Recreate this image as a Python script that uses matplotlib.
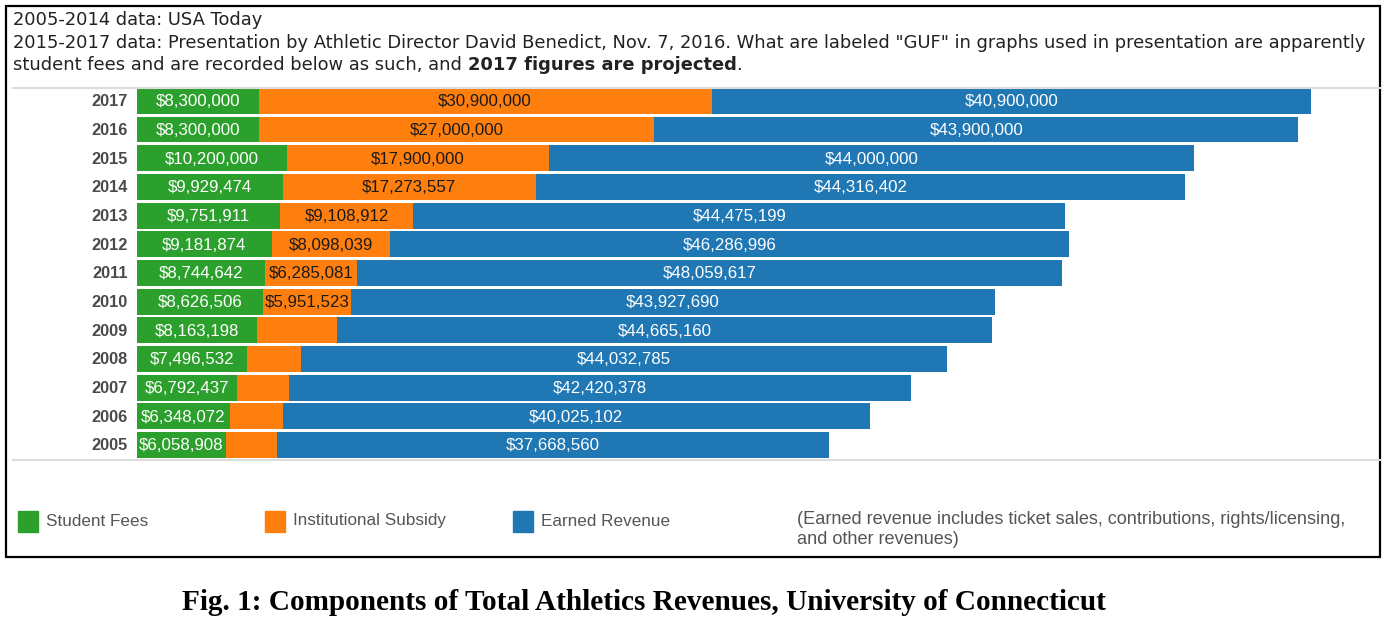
import numpy as np
import matplotlib
matplotlib.use("Agg")
from matplotlib import pyplot as plt
from matplotlib.patches import Rectangle
from matplotlib.lines import Line2D

W, H = 1388, 625

years = ["2005", "2006", "2007", "2008", "2009", "2010", "2011",
         "2012", "2013", "2014", "2015", "2016", "2017"]
student_fees = [6058908, 6348072, 6792437, 7496532, 8163198, 8626506, 8744642,
                9181874, 9751911, 9929474, 10200000, 8300000, 8300000]
# 2005-2009 subsidy not labelled in the source
inst_subsidy = [3500000, 3600000, 3600000, 3700000, 5500000, 5951523, 6285081,
                8098039, 9108912, 17273557, 17900000, 27000000, 30900000]
subsidy_labelled = [False] * 5 + [True] * 8
earned = [37668560, 40025102, 42420378, 44032785, 44665160, 43927690, 48059617,
          46286996, 44475199, 44316402, 44000000, 43900000, 40900000]

GREEN = "#2ca02c"
ORANGE = "#ff7f0e"
BLUE = "#1f77b4"
SANS = "Liberation Sans"


def px(x, y):
    return x / W, 1 - y / H


fig = plt.figure(figsize=(W / 100, H / 100), dpi=100)

# outer frame
fig.add_artist(Rectangle(px(6, 557), (1380 - 6) / W, (557 - 6) / H,
                         transform=fig.transFigure, fill=False, ec="black", lw=1.6))

# header notes
hdr = dict(fontsize=12.88, family="DejaVu Sans", color="#222222", va="center")
fig.text(*px(13, 20), "2005-2014 data: USA Today", **hdr)
fig.text(*px(13, 43), '2015-2017 data: Presentation by Athletic Director David Benedict, '
         'Nov. 7, 2016. What are labeled "GUF" in graphs used in presentation are apparently', **hdr)
t1 = fig.text(*px(13, 65), "student fees and are recorded below as such, and ", **hdr)
r = fig.canvas.get_renderer()
x1 = t1.get_window_extent(r).x1
t2 = fig.text(x1 / W, 1 - 65 / H, "2017 figures are projected", fontweight="bold", **hdr)
x2 = t2.get_window_extent(r).x1
fig.text(x2 / W, 1 - 65 / H, ".", **hdr)

# separator lines
for yy in (88, 460):
    fig.add_artist(Line2D([13 / W, 1380 / W], [1 - yy / H] * 2,
                          transform=fig.transFigure, color="#dddddd", lw=1.5))

ax = fig.add_axes([137 / W, (H - 460) / H, (1380 - 137) / W, (460 - 88) / H])
y = np.arange(len(years))
sf = np.array(student_fees)
isub = np.array(inst_subsidy)
er = np.array(earned)

ax.barh(y, sf, height=0.9, color=GREEN)
ax.barh(y, isub, left=sf, height=0.9, color=ORANGE)
ax.barh(y, er, left=sf + isub, height=0.9, color=BLUE)

ax.set_xlim(0, 84.8e6)
ax.set_ylim(-0.52, 12.45)
ax.axis("off")

lab = dict(fontsize=12.2, family=SANS, ha="center", va="center")
for i in range(len(years)):
    yl = y[i] - 0.03
    ax.text(sf[i] / 2, yl, f"${sf[i]:,}", color="white", **lab)
    if subsidy_labelled[i]:
        ax.text(sf[i] + isub[i] / 2, yl, f"${isub[i]:,}", color="#1a1a1a", **lab)
    ax.text(sf[i] + isub[i] + er[i] / 2, yl, f"${er[i]:,}", color="white", **lab)
    ax.text(-0.0075, yl, years[i], transform=ax.get_yaxis_transform(),
            ha="right", va="center", fontsize=11.8, family=SANS,
            fontweight="bold", color="#4a4a4a")

# legend
leg = [("Student Fees", GREEN, 18), ("Institutional Subsidy", ORANGE, 265),
       ("Earned Revenue", BLUE, 513)]
for name, col, lx in leg:
    fig.add_artist(Rectangle(px(lx, 532), 20 / W, 21 / H,
                             transform=fig.transFigure, color=col))
    fig.text(*px(lx + 28, 521), name, fontsize=12.3, family=SANS,
             color="#555555", va="center")
fig.text(*px(797, 520), "(Earned revenue includes ticket sales, contributions, rights/licensing,",
         fontsize=13.1, family=SANS, color="#555555", va="center")
fig.text(*px(797, 540), "and other revenues)",
         fontsize=13.1, family=SANS, color="#555555", va="center")

fig.text(*px(644, 603), "Fig. 1: Components of Total Athletics Revenues, University of Connecticut",
         fontsize=21.1, family="Liberation Serif", fontweight="bold", ha="center", va="center")

fig.savefig("out.png", dpi=100)
